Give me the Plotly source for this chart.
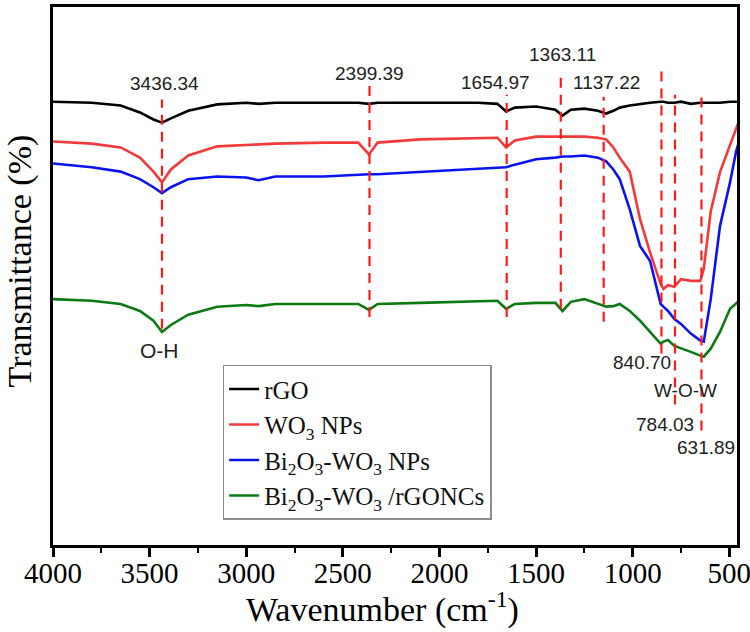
import plotly.graph_objects as go

# Wavenumber grid (cm-1)
wavenumber = [4000, 3800, 3650, 3550, 3480, 3436, 3390, 3300, 3150, 3000, 2935, 2850, 2600,
              2420, 2365, 2320, 2100, 1800, 1700, 1655, 1610, 1500, 1400, 1363, 1320, 1250,
              1180, 1137, 1100, 1067, 1015, 962, 910, 855, 841, 817, 784, 750, 699, 650, 632,
              596, 548, 496, 465, 455]

# Transmittance (arbitrary offset units)
rgo = [82.4, 82.2, 81.7, 80.4, 79.1, 78.5, 79.3, 80.7, 81.9, 82.2, 82.0, 82.2, 82.2,
       82.2, 82.0, 82.2, 82.2, 82.2, 82.0, 80.6, 81.3, 81.5, 80.9, 79.8, 80.9, 81.1,
       80.7, 80.2, 80.7, 81.3, 81.7, 82.0, 82.2, 82.4, 82.4, 82.2, 82.2, 82.4, 82.0, 82.2, 82.2,
       82.2, 82.2, 82.4, 82.4, 82.4]
wo3 = [75.0, 74.6, 73.9, 72.0, 69.4, 67.4, 69.8, 72.4, 74.1, 74.4, 74.4, 74.6, 74.8,
       74.8, 72.6, 74.8, 75.4, 75.7, 75.7, 73.9, 75.2, 75.9, 75.9, 75.9, 75.9, 75.9,
       75.7, 75.4, 73.9, 72.0, 69.4, 60.6, 54.4, 48.5, 47.6, 48.3, 48.0, 49.4, 49.1, 49.1, 51.3,
       62.0, 69.3, 74.4, 77.2, 78.3]
bi_wo3 = [70.9, 70.2, 69.4, 68.0, 66.5, 65.4, 66.5, 68.0, 68.5, 68.3, 67.8, 68.5, 68.5,
          68.9, 68.9, 68.9, 69.3, 69.8, 70.0, 70.2, 70.7, 71.7, 72.0, 72.2, 72.2, 72.4,
          72.0, 71.3, 69.8, 68.0, 62.4, 55.6, 52.8, 44.8, 44.3, 43.5, 42.0, 41.1, 39.3, 38.0, 37.8,
          45.7, 59.3, 67.4, 73.1, 74.4]
bi_wo3_rgo = [45.7, 45.4, 44.8, 43.5, 41.7, 39.6, 40.9, 42.8, 44.3, 44.6, 44.4, 44.8, 44.8,
              44.8, 43.7, 44.8, 45.0, 45.4, 45.4, 43.9, 44.8, 45.0, 45.0, 43.5, 45.2, 45.7,
              44.8, 44.3, 44.4, 44.8, 43.5, 41.7, 39.6, 37.4, 37.8, 38.1, 37.0, 36.5, 35.9, 35.2, 35.0,
              36.5, 39.6, 43.9, 44.8, 45.2]

series_names = ["rGO", "WO<sub>3</sub> NPs", "Bi<sub>2</sub>O<sub>3</sub>-WO<sub>3</sub> NPs",
                "Bi<sub>2</sub>O<sub>3</sub>-WO<sub>3</sub> /rGONCs"]
series_values = [rgo, wo3, bi_wo3, bi_wo3_rgo]
series_colors = ["#000000", "#f23a3a", "#0a14f0", "#0c7a12"]

# Marker lines (wavenumber, top, bottom)
peak_lines_x = [3436, 2362, 1652, 1372, 1150, 851, 781, 644]
peak_lines_top = [82.8, 85.4, 83.7, 87.4, 83.3, 89.1, 83.7, 83.7]
peak_lines_bottom = [40.2, 42.4, 42.4, 43.9, 41.5, 35.6, 26.1, 21.3]

# Peak labels
peak_labels = ["3436.34", "2399.39", "1654.97", "1363.11", "1137.22", "O-H",
               "840.70", "W-O-W", "784.03", "631.89"]
peak_label_x = [3425, 2362, 1709, 1361, 1133, 3451, 952, 724, 833, 620]
peak_label_y = [85.7, 87.6, 85.9, 91.1, 85.9, 36.1, 33.9, 28.7, 22.4, 18.1]

x_ticks = [4000, 3500, 3000, 2500, 2000, 1500, 1000, 500]

SERIF = "Liberation Serif, Times New Roman, serif"
SANS = "Liberation Sans, Arial, sans-serif"

fig = go.Figure()
for name, vals, col in zip(series_names, series_values, series_colors):
    fig.add_trace(go.Scatter(x=wavenumber, y=vals, mode="lines", name=name,
                             line=dict(color=col, width=2.6)))

for xv, yt, yb in zip(peak_lines_x, peak_lines_top, peak_lines_bottom):
    fig.add_shape(type="line", xref="x", yref="y", x0=xv, x1=xv, y0=yb, y1=yt,
                  line=dict(color="#ff1a1a", width=2.2, dash="10px,7px"))

for t, xv, yv in zip(peak_labels, peak_label_x, peak_label_y):
    size = 21 if t == "O-H" else 19
    fig.add_annotation(x=xv, y=yv, xref="x", yref="y", text=t, showarrow=False,
                       font=dict(family=SANS, size=size, color="#222222"))

# Axis titles
fig.add_annotation(x=0.481, y=-0.116, xref="paper", yref="paper", xanchor="center", yanchor="middle",
                   text="Wavenumber (cm<sup>-1</sup>)", showarrow=False,
                   font=dict(family=SERIF, size=34, color="black"))
fig.add_annotation(x=-0.049, y=0.528, xref="paper", yref="paper", xanchor="center", yanchor="middle",
                   text="Transmittance (%)", textangle=-90, showarrow=False,
                   font=dict(family=SERIF, size=34, color="black"))

fig.update_layout(
    width=750, height=632,
    margin=dict(l=53, r=13, t=7, b=87),
    paper_bgcolor="white", plot_bgcolor="white",
    showlegend=True,
    legend=dict(x=0.248, y=0.335, xanchor="left", yanchor="top",
                bgcolor="white", bordercolor="#8c8c8c", borderwidth=1.5,
                font=dict(family=SERIF, size=25, color="#111111"),
                tracegroupgap=4, entrywidth=250, entrywidthmode="pixels"),
    xaxis=dict(range=[4000, 460], tickvals=x_ticks, ticks="outside", ticklen=9, tickwidth=2.5,
               tickcolor="black", showline=True, linecolor="black", linewidth=2.5, mirror=True,
               showgrid=False, zeroline=False, automargin=False,
               ticklabeloverflow="allow", ticklabelstandoff=-9,
               minor=dict(dtick=250, tick0=0, ticks="outside", ticklen=5, tickwidth=2, tickcolor="black"),
               tickfont=dict(family=SERIF, size=29, color="black")),
    yaxis=dict(range=[0, 100], showticklabels=False, ticks="", showline=True, linecolor="black",
               linewidth=2.5, mirror=True, showgrid=False, zeroline=False, automargin=False),
)

fig.write_html("out.html", config={"displayModeBar": False},
               post_script="document.body.style.margin='0px';document.body.style.overflow='hidden';")
